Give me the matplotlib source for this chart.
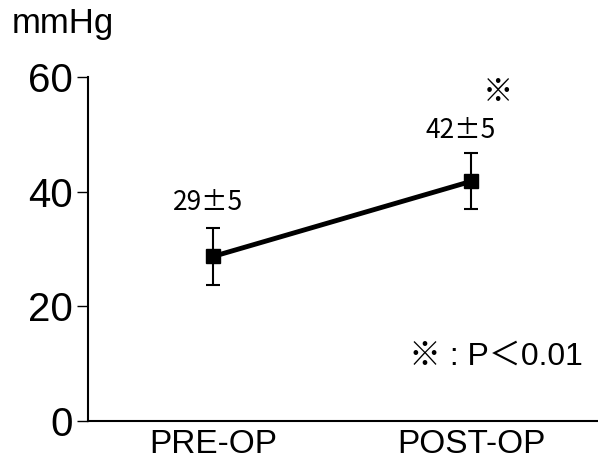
import matplotlib
matplotlib.use('Agg')
import matplotlib.pyplot as plt

# Data
categories = ['PRE-OP', 'POST-OP']
means = [28.7, 41.8]
errors = [4.9, 4.9]
value_labels = ['29±5', '42±5']
y_ticks = [0, 20, 40, 60]

plt.rcParams['font.family'] = ['Liberation Sans', 'Noto Sans CJK JP', 'DejaVu Sans']

fig = plt.figure(figsize=(5.98, 4.61), dpi=100)
ax = fig.add_axes([88 / 598, 1 - 421 / 461, (597 - 88) / 598, (421 - 77) / 461])

x = list(range(len(categories)))
ax.errorbar(x, means, yerr=errors, color='black', linewidth=3.5,
            marker='s', markersize=10, ecolor='black', elinewidth=1.5,
            capsize=5, capthick=1.5)

# value labels above the points
cjk = ['Noto Sans CJK JP', 'Liberation Sans']
ax.text(x[0] - 0.02, means[0] + 7.0, value_labels[0], ha='center', va='bottom',
        fontsize=19, family=cjk)
ax.text(x[1] - 0.04, means[1] + 6.5, value_labels[1], ha='center', va='bottom',
        fontsize=19, family=cjk)
ax.text(x[1] + 0.105, means[1] + 13.0, '※', ha='center', va='bottom', fontsize=22)
ax.text(1.095, 11.2, '※ : P＜0.01', ha='center', va='center', fontsize=23)

ax.set_xlim(-0.485, 1.488)
ax.set_ylim(0, 60)
ax.set_yticks(y_ticks)
ax.set_xticks(x)
ax.set_xticklabels(categories, fontsize=24)
ax.tick_params(axis='y', labelsize=29, length=8, width=1, direction='out', pad=3)
ax.tick_params(axis='x', length=0, pad=6)

for s in ['top', 'right']:
    ax.spines[s].set_visible(False)
ax.spines['left'].set_linewidth(1.5)
ax.spines['bottom'].set_linewidth(1.5)

fig.text(12 / 598, 1 - 23 / 461, 'mmHg', ha='left', va='center', fontsize=25)

fig.savefig('out.png', dpi=100)
